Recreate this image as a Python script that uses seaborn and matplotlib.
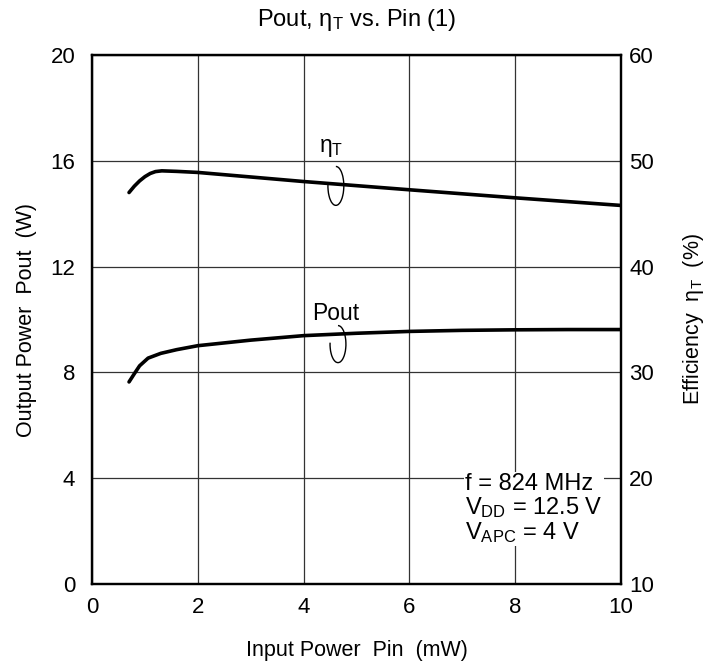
import matplotlib
matplotlib.use("Agg")
import matplotlib.pyplot as plt
from matplotlib.patches import Arc
import seaborn as sns
import pandas as pd

# ---- data ----
pin_pout = [0.7, 0.8, 0.9, 1.06, 1.3, 1.6, 2.0, 3.0, 4.0, 5.0, 6.0, 7.0, 8.0, 9.0, 10.0]
pout = [7.64, 7.95, 8.25, 8.54, 8.72, 8.86, 9.01, 9.22, 9.39, 9.48, 9.55, 9.59, 9.61, 9.62, 9.62]

pin_eta = [0.7, 0.8, 0.9, 1.0, 1.1, 1.2, 1.32, 1.6, 2.0, 4.0, 6.0, 8.0, 10.0]
eta = [47.0, 47.6, 48.1, 48.5, 48.8, 48.98, 49.05, 49.0, 48.9, 48.04, 47.26, 46.5, 45.78]

x_ticks = [0, 2, 4, 6, 8, 10]
yl_ticks = [0, 4, 8, 12, 16, 20]
yr_ticks = [10, 20, 30, 40, 50, 60]

df_p = pd.DataFrame({"pin": pin_pout, "pout": pout})
df_e = pd.DataFrame({"pin": pin_eta, "eta": eta})

sns.set_style("white")
plt.rcParams["font.family"] = ["Liberation Sans", "DejaVu Sans"]
plt.rcParams["mathtext.fontset"] = "custom"
plt.rcParams["mathtext.rm"] = "Liberation Sans"
plt.rcParams["text.color"] = "black"
plt.rcParams["axes.labelcolor"] = "black"

fig = plt.figure(figsize=(7.11, 6.68), dpi=100)
ax = fig.add_axes([0.1294, 0.1257, 0.744, 0.792])
ax2 = ax.twinx()

ax.set_xlim(0, 10)
ax.set_ylim(0, 20)
ax2.set_ylim(10, 60)
ax.set_xticks(x_ticks)
ax.set_yticks(yl_ticks)
ax2.set_yticks(yr_ticks)

ax.grid(True, color="#333333", linewidth=0.9)
ax.set_axisbelow(True)

sns.lineplot(data=df_p, x="pin", y="pout", ax=ax, color="black", linewidth=2.6)
sns.lineplot(data=df_e, x="pin", y="eta", ax=ax2, color="black", linewidth=2.6)

for a in (ax, ax2):
    for s in a.spines.values():
        s.set_color("black")
        s.set_linewidth(1.6)
ax.tick_params(axis="x", length=0, labelsize=16, colors="black", pad=9)
ax.tick_params(axis="y", length=0, labelsize=16, colors="black", pad=12)
ax2.tick_params(axis="y", length=0, labelsize=16, colors="black", pad=6)

ax.set_xlabel("Input Power  Pin  (mW)", fontsize=15.5, labelpad=16)
ax.set_ylabel("Output Power  Pout  (W)", fontsize=15.5, labelpad=10)
ax2.set_ylabel(r"Efficiency  $\mathregular{η_T}$  (%)", fontsize=15.5, labelpad=19)
ax.set_title(r"Pout, $\mathregular{η_T}$ vs. Pin (1)", fontsize=17, pad=21)

# loop markers
ax.add_patch(Arc((4.61, 15.05), 0.30, 1.47, theta1=160, theta2=450, color="black", linewidth=1.0))
ax.add_patch(Arc((4.65, 9.07), 0.30, 1.40, theta1=160, theta2=450, color="black", linewidth=1.0))
ax.text(4.53, 16.5, r"$\mathregular{η_T}$", fontsize=16.5, ha="center", va="center")
ax.text(4.61, 10.22, "Pout", fontsize=16.5, ha="center", va="center")

ax.text(7.05, 4.2,
        "f = 824 MHz\n" + r"V$\mathregular{_{DD}}$ = 12.5 V" + "\n" + r"V$\mathregular{_{APC}}$ = 4 V",
        fontsize=17, ha="left", va="top", linespacing=1.0,
        bbox=dict(facecolor="white", edgecolor="none", pad=1.0))

fig.savefig("out.png", dpi=100)
